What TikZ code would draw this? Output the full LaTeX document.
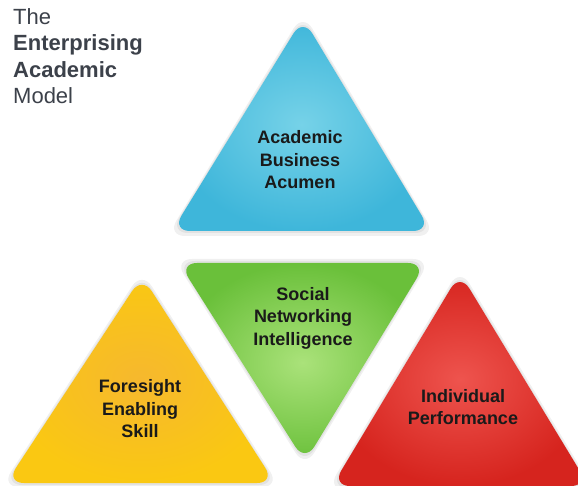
\documentclass[tikz,border=0pt]{standalone}
\usepackage{fontspec}
\setmainfont{Liberation Sans}
\usepackage{tikz}

\definecolor{titlegray}{HTML}{3C414A}
\definecolor{labelblack}{HTML}{1A1A1A}

\tikzset{
    tri/.style={rounded corners=18pt, shading=radial},
    glow/.style={rounded corners=18pt, fill=black, opacity=0.06},
    label/.style={align=center, text=labelblack,
                  font=\fontsize{18}{22.5}\selectfont\bfseries}
}

\begin{document}
\begin{tikzpicture}[x=1pt, y=-1pt]
    \useasboundingbox (0,0) rectangle (578,486);

    \node (title) [anchor=north west, align=left, text=titlegray, inner sep=0,
                   font=\fontsize{22}{26.5}\selectfont] at (13,8)
        {The\\\textbf{Enterprising}\\\textbf{Academic}\\Model};

    % shadows
    \fill [glow] (303,13) -- (436,236) -- (167,236) -- cycle;
    \fill [glow] (174,259) -- (431,259) -- (305,468) -- cycle;
    \fill [glow] (142,271) -- (280,487) -- (1,487) -- cycle;
    \fill [glow] (460,268) -- (594,490) -- (327,490) -- cycle;
    \fill [glow] (303,16) -- (433,233) -- (170,233) -- cycle;
    \fill [glow] (177,261) -- (428,261) -- (305,465) -- cycle;
    \fill [glow] (142,274) -- (277,485) -- (4,485) -- cycle;
    \fill [glow] (460,271) -- (591,488) -- (330,488) -- cycle;

    % triangles
    \shade [tri, inner color={rgb,255:red,118;green,210;blue,232},
                 outer color={rgb,255:red,62;green,182;blue,218}]
        (303,18) -- (431,231) -- (172,231) -- cycle;
    \shade [tri, inner color={rgb,255:red,170;green,226;blue,122},
                 outer color={rgb,255:red,106;green,192;blue,58}]
        (179,263) -- (426,263) -- (305,462) -- cycle;
    \shade [tri, inner color={rgb,255:red,246;green,184;blue,46},
                 outer color={rgb,255:red,250;green,200;blue,18}]
        (142,276) -- (275,483) -- (6,483) -- cycle;
    \shade [tri, inner color={rgb,255:red,238;green,84;blue,78},
                 outer color={rgb,255:red,214;green,36;blue,30}]
        (460,273) -- (589,486) -- (332,486) -- cycle;

    \node (acumen) [label] at (300,160) {Academic\\Business\\Acumen};
    \node (social) [label] at (303,318) {Social\\Networking\\Intelligence};
    \node (foresight) [label] at (140,409) {Foresight\\Enabling\\Skill};
    \node (performance) [label] at (463,407) {Individual\\Performance};
\end{tikzpicture}
\end{document}
